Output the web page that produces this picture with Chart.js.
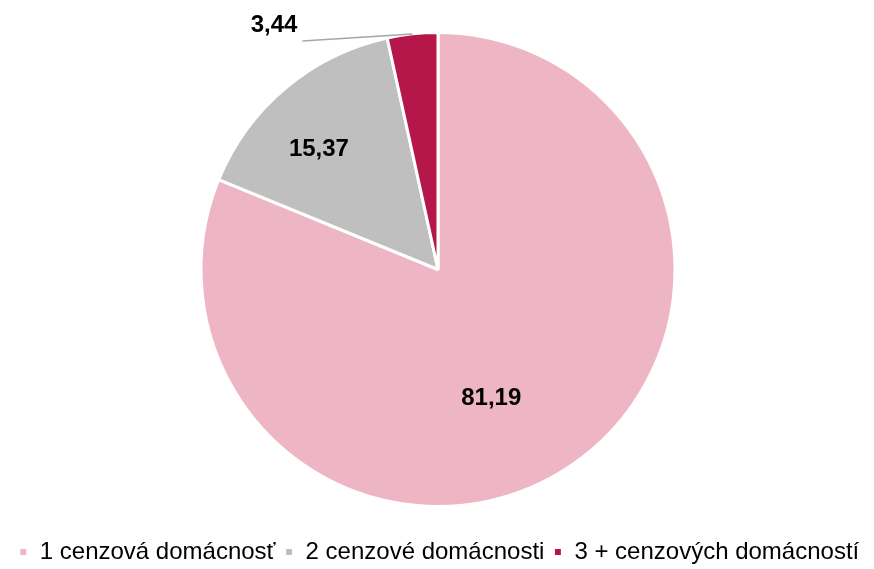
<!DOCTYPE html>
<html><head><meta charset="utf-8">
<script src="https://cdn.jsdelivr.net/npm/chart.js@4/dist/chart.umd.min.js"></script>
<style>html,body{margin:0;padding:0;background:#fff}#w{width:874px;height:569px}</style>
</head><body><div id="w"><canvas id="c"></canvas></div>
<script>
const categories = ["1 cenzová domácnosť", "2 cenzové domácnosti", "3 + cenzových domácností"];
const values = [81.19, 15.37, 3.44];
const valueLabels = ["81,19", "15,37", "3,44"];
const colors = ["#EEB6C5", "#BFBFBF", "#B5174B"];
const FONT = "'Liberation Sans', Arial, sans-serif";

const labelPlugin = {
  id: 'vlabels',
  afterDatasetsDraw(chart) {
    const ctx = chart.ctx;
    const meta = chart.getDatasetMeta(0);
    ctx.save();
    ctx.font = "bold 24px " + FONT;
    ctx.fillStyle = "#000";
    ctx.textAlign = "center";
    ctx.textBaseline = "middle";
    const place = [[0.2, 0.59], [-0.083, 0.713]];
    meta.data.forEach((arc, i) => {
      const { x, y, startAngle, endAngle, outerRadius } = arc.getProps(['x','y','startAngle','endAngle','outerRadius'], true);
      const mid = (startAngle + endAngle) / 2;
      if (i < 2) {
        const a = mid + place[i][0], r = outerRadius * place[i][1];
        ctx.fillText(valueLabels[i], x + Math.cos(a) * r, y + Math.sin(a) * r);
      } else {
        const ex = x + Math.cos(mid) * outerRadius, ey = y + Math.sin(mid) * outerRadius;
        const lx = ex - 110, ly = ey + 7;
        ctx.strokeStyle = "#A6A6A6";
        ctx.lineWidth = 1.5;
        ctx.beginPath();
        ctx.moveTo(ex, ey);
        ctx.lineTo(lx, ly);
        ctx.stroke();
        ctx.textAlign = "right";
        ctx.fillText(valueLabels[i], lx - 5, ly - 16);
      }
    });
    ctx.restore();
  }
};

new Chart(document.getElementById('c'), {
  type: 'pie',
  data: {
    labels: categories,
    datasets: [{ data: values, backgroundColor: colors, borderColor: "#fff", borderWidth: 3, radius: 237 }]
  },
  options: {
    responsive: true,
    maintainAspectRatio: false,
    animation: false,
    layout: { padding: { top: 8, bottom: -5, left: 2, right: -2 } },
    plugins: {
      tooltip: { enabled: false },
      legend: {
        position: 'bottom',
        labels: {
          boxWidth: 9, boxHeight: 9, padding: 9,
          color: "#000",
          font: { family: FONT, size: 24 }
        }
      }
    }
  },
  plugins: [labelPlugin]
});
</script></body></html>
